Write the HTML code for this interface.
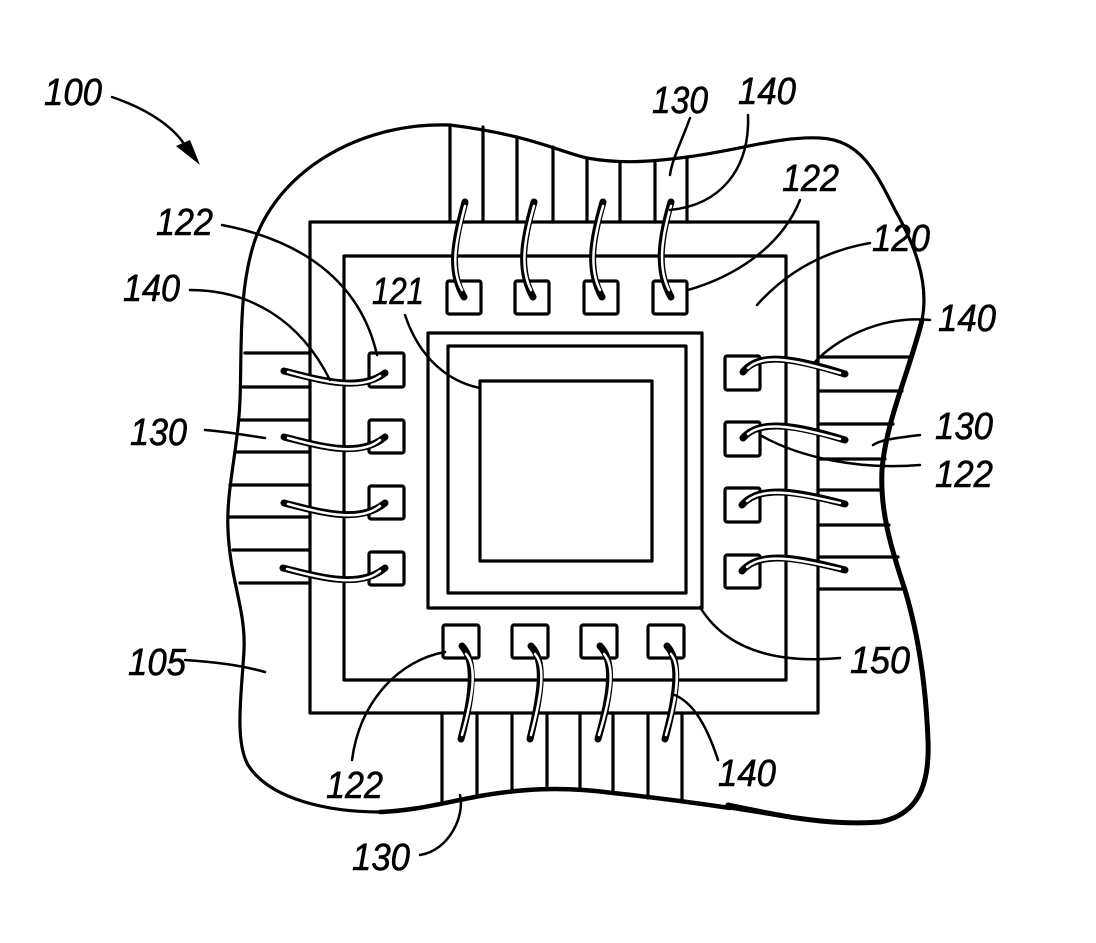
<!DOCTYPE html>
<html><head><meta charset="utf-8"><style>
html,body{margin:0;padding:0;background:#fff;}
svg{display:block}
text{font-family:"Liberation Sans",sans-serif;font-style:italic;font-size:38px;fill:#000;stroke:#000;stroke-width:0.6}
</style></head><body>
<svg width="1096" height="943" viewBox="0 0 1096 943" xmlns="http://www.w3.org/2000/svg">
<g fill="none" stroke="#000" stroke-width="3.2" stroke-linejoin="round" stroke-linecap="round">
<path d="M450,125 C360,122 280,170 255,240 C238,290 242,350 240,400 C238,450 226,490 228,530 C230,580 246,610 244,650 C242,690 234,740 248,765 C270,800 330,812 380,812 C420,810 442,803 480,796 C520,789 560,786 613,793 C650,797 690,802 730,808 C780,816 830,826 880,822 C915,815 930,790 928,740 C926,690 920,640 905,590 C890,545 880,510 882,470 C886,420 910,370 922,320 C930,280 912,240 895,210 C875,170 860,140 820,138 C780,136 740,150 687,157 C650,162 620,164 587,158 C560,152 530,135 450,125 Z"/>
<path d="M728,805 C780,816 830,826 880,822 C915,815 930,790 928,740 C926,690 920,640 905,590 C890,545 880,510 882,470 C886,420 910,370 922,320" stroke-width="5"/>
<path d="M380,812 C420,810 442,803 480,796 C520,789 560,786 613,793 C650,797 690,802 730,808" stroke-width="4.5"/>

<path d="M450,125V222M483,127V222M517,137V222M553,147V222M587,158V222M620,163V222M655,161V222M687,157V222"/>
<path d="M442,713V801M477,713V797M512,713V791M547,713V789M580,713V790M613,713V793M648,713V798M682,713V802"/>
<path d="M245,353H310M243,387H310M240,420H310M235,452H310M230,485H310M229,517H310M233,550H310M240,583H310"/>
<path d="M818,357H912M818,391H902M818,424H893M818,459H885M818,490H883M818,525H889M818,557H898M818,589H905"/>

<rect x="310" y="222" width="508" height="491"/>
<rect x="344" y="256" width="442" height="424"/>
<rect x="428" y="333" width="274" height="275"/>
<rect x="448" y="346" width="238" height="247"/>
<rect x="480" y="381" width="172" height="180"/>

<rect x="447" y="281" width="34" height="33" rx="2"/>
<rect x="515" y="281" width="34" height="33" rx="2"/>
<rect x="584" y="281" width="34" height="33" rx="2"/>
<rect x="653" y="281" width="34" height="33" rx="2"/>
<rect x="443" y="625" width="36" height="33" rx="2"/>
<rect x="512" y="625" width="36" height="33" rx="2"/>
<rect x="581" y="625" width="36" height="33" rx="2"/>
<rect x="648" y="625" width="36" height="33" rx="2"/>
<rect x="369" y="353" width="35" height="34" rx="2"/>
<rect x="369" y="420" width="35" height="33" rx="2"/>
<rect x="369" y="486" width="35" height="33" rx="2"/>
<rect x="369" y="552" width="35" height="33" rx="2"/>
<rect x="725" y="356" width="35" height="34" rx="2"/>
<rect x="725" y="422" width="35" height="34" rx="2"/>
<rect x="725" y="488" width="35" height="34" rx="2"/>
<rect x="725" y="555" width="35" height="33" rx="2"/>
</g>

<g fill="none" stroke-linecap="round">
<g stroke="#000" stroke-width="7">
<path d="M465,202 C455,240 448,270 464,297"/>
<path d="M534,202 C523,240 518,270 533,297"/>
<path d="M603,202 C592,240 587,270 602,297"/>
<path d="M671,202 C660,240 656,270 671,297"/>
<path d="M462,646 C475,660 474,690 461,739"/>
<path d="M531,646 C545,660 542,690 530,739"/>
<path d="M600,646 C614,660 612,690 598,739"/>
<path d="M667,646 C680,660 678,690 665,739"/>
<path d="M284,371 C320,380 360,392 385,373"/>
<path d="M284,437 C320,446 360,458 385,437"/>
<path d="M284,503 C320,512 360,524 385,503"/>
<path d="M283,568 C320,577 360,589 385,568"/>
<path d="M743,372 C760,350 800,360 845,374"/>
<path d="M743,438 C760,418 800,426 845,440"/>
<path d="M742,505 C760,484 800,492 845,504"/>
<path d="M742,571 C760,550 800,558 845,570"/>
</g>
<g stroke="#fff" stroke-width="2.5">
<path d="M465,206 C456,240 450,268 462,290"/>
<path d="M534,206 C524,240 520,268 531,290"/>
<path d="M603,206 C593,240 589,268 600,290"/>
<path d="M671,206 C661,240 658,268 669,290"/>
<path d="M466,654 C476,665 475,690 462,735"/>
<path d="M535,654 C545,665 543,690 531,735"/>
<path d="M604,654 C614,665 613,690 599,735"/>
<path d="M671,654 C680,665 679,690 666,735"/>
<path d="M288,372 C320,381 360,391 380,376"/>
<path d="M288,438 C320,447 360,457 380,440"/>
<path d="M288,504 C320,513 360,523 380,506"/>
<path d="M287,569 C320,578 360,588 380,571"/>
<path d="M748,368 C765,352 800,362 840,373"/>
<path d="M748,434 C765,420 800,428 840,439"/>
<path d="M747,501 C765,486 800,494 840,503"/>
<path d="M747,567 C765,552 800,560 840,569"/>
</g>
</g>

<g fill="none" stroke="#000" stroke-width="2.5" stroke-linecap="round">
<path d="M112,97 C150,110 180,130 190,155"/>
<path d="M222,225 C300,240 360,280 377,355"/>
<path d="M190,290 C250,290 300,320 330,380"/>
<path d="M405,315 C420,360 450,382 480,388"/>
<path d="M690,118 C680,145 672,160 670,175"/>
<path d="M748,115 C750,170 720,205 670,210"/>
<path d="M800,200 C780,250 730,278 688,290"/>
<path d="M870,243 C830,250 790,268 757,305"/>
<path d="M930,320 C880,315 835,340 815,362"/>
<path d="M920,435 C895,438 880,440 873,445"/>
<path d="M920,465 C860,470 800,458 760,435"/>
<path d="M205,430 C230,432 250,436 265,438"/>
<path d="M185,660 C215,662 240,665 265,672"/>
<path d="M840,658 C760,665 720,640 700,607"/>
<path d="M352,760 C360,700 400,660 445,652"/>
<path d="M718,760 C705,720 690,700 672,694"/>
<path d="M420,855 C450,850 465,815 460,795"/>
</g>
<path d="M176,146 L200,165 L190,140 Z" fill="#000"/>

<text x="44" y="105" textLength="58" lengthAdjust="spacingAndGlyphs">100</text>
<text x="652" y="113" textLength="56" lengthAdjust="spacingAndGlyphs">130</text>
<text x="738" y="104" textLength="58" lengthAdjust="spacingAndGlyphs">140</text>
<text x="782" y="191" textLength="57" lengthAdjust="spacingAndGlyphs">122</text>
<text x="872" y="251" textLength="58" lengthAdjust="spacingAndGlyphs">120</text>
<text x="938" y="331" textLength="58" lengthAdjust="spacingAndGlyphs">140</text>
<text x="156" y="235" textLength="57" lengthAdjust="spacingAndGlyphs">122</text>
<text x="123" y="301" textLength="57" lengthAdjust="spacingAndGlyphs">140</text>
<text x="372" y="304" textLength="52" lengthAdjust="spacingAndGlyphs">121</text>
<text x="130" y="445" textLength="57" lengthAdjust="spacingAndGlyphs">130</text>
<text x="935" y="439" textLength="58" lengthAdjust="spacingAndGlyphs">130</text>
<text x="935" y="487" textLength="58" lengthAdjust="spacingAndGlyphs">122</text>
<text x="128" y="675" textLength="58" lengthAdjust="spacingAndGlyphs">105</text>
<text x="850" y="673" textLength="60" lengthAdjust="spacingAndGlyphs">150</text>
<text x="326" y="798" textLength="57" lengthAdjust="spacingAndGlyphs">122</text>
<text x="718" y="786" textLength="58" lengthAdjust="spacingAndGlyphs">140</text>
<text x="352" y="870" textLength="58" lengthAdjust="spacingAndGlyphs">130</text>
</svg>
</body></html>
